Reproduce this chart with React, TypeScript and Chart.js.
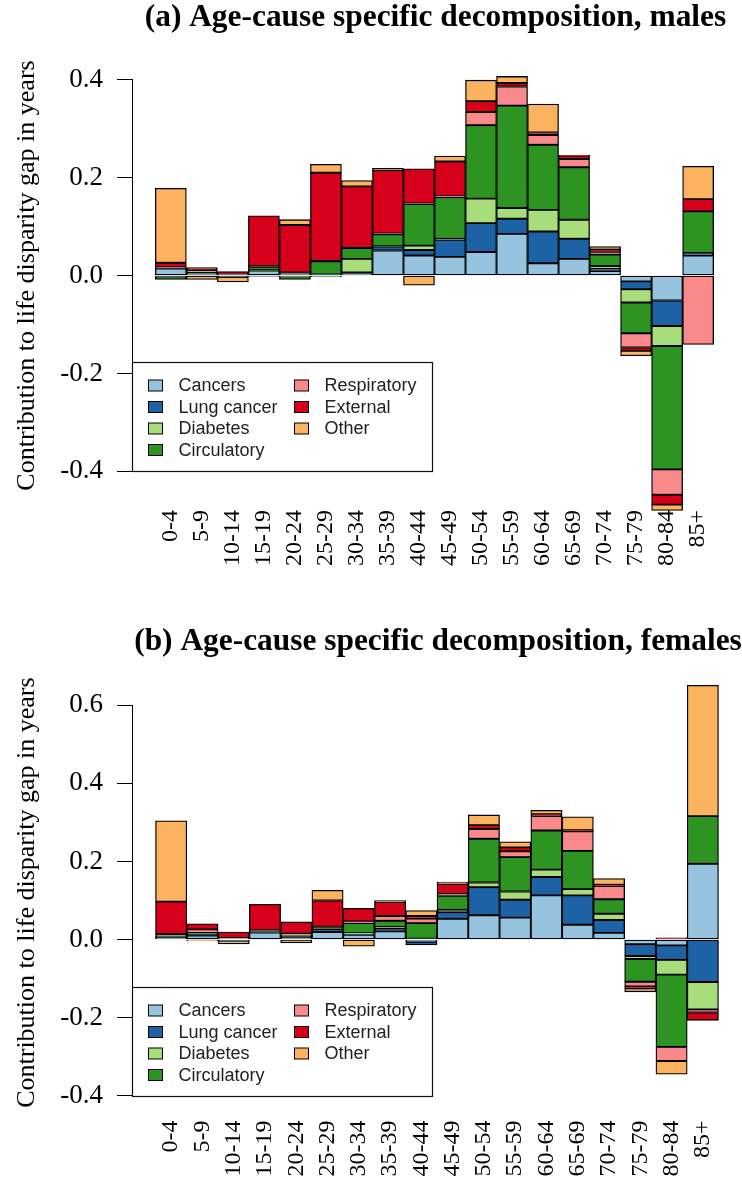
import { useEffect, useRef } from 'react';
import { Chart, registerables } from 'chart.js';

Chart.register(...registerables);

// ---------- data ----------
const ageGroups = ['0-4', '5-9', '10-14', '15-19', '20-24', '25-29', '30-34', '35-39', '40-44', '45-49', '50-54', '55-59', '60-64', '65-69', '70-74', '75-79', '80-84', '85+'];
const causes = ['Cancers', 'Lung cancer', 'Diabetes', 'Circulatory', 'Respiratory', 'External', 'Other'];
const causeColors = ['#96C3DD', '#1D62A5', '#A8DD7C', '#2E9421', '#FA898C', '#D7001A', '#FBB35F'];

const maleCancers = [0.014, 0.002, 0.001, 0.010, 0.002, 0.001, 0.004, 0.051, 0.041, 0.038, 0.048, 0.085, 0.025, 0.034, 0.009, -0.012, -0.051, 0.041];
const maleLungCancer = [-0.002, 0.001, -0.001, -0.002, 0.002, 0.001, 0.002, 0.008, 0.011, 0.035, 0.059, 0.031, 0.065, 0.041, 0.005, -0.016, -0.052, 0.005];
const maleDiabetes = [0.0, -0.001, 0.0, 0.001, -0.002, -0.003, 0.028, 0.001, 0.009, 0.002, 0.050, 0.022, 0.044, 0.039, 0.005, -0.027, -0.041, 0.0];
const maleCirculatory = [-0.006, 0.003, -0.002, 0.007, -0.006, 0.027, 0.022, 0.024, 0.085, 0.085, 0.150, 0.209, 0.133, 0.107, 0.024, -0.063, -0.252, 0.085];
const maleRespiratory = [0.003, 0.005, 0.001, 0.001, 0.002, 0.001, 0.0, 0.002, 0.001, 0.002, 0.027, 0.039, 0.020, 0.017, 0.004, -0.029, -0.052, -0.141];
const maleExternal = [0.009, 0.005, 0.006, 0.103, 0.097, 0.180, 0.126, 0.129, 0.071, 0.071, 0.022, 0.007, 0.005, 0.007, 0.006, -0.007, -0.020, 0.025];
const maleOther = [0.152, -0.007, -0.010, 0.0, 0.011, 0.017, 0.012, 0.004, -0.020, 0.011, 0.043, 0.0136, 0.058, 0.001, 0.006, -0.010, -0.012, 0.067];

const femaleCancers = [0.005, 0.010, 0.002, 0.018, 0.004, 0.019, 0.012, 0.021, -0.006, 0.053, 0.062, 0.056, 0.113, 0.038, 0.017, -0.012, -0.015, 0.194];
const femaleLungCancer = [0.002, 0.003, -0.002, 0.002, 0.005, 0.008, 0.002, 0.007, -0.008, 0.017, 0.072, 0.046, 0.047, 0.075, 0.033, -0.030, -0.037, -0.109];
const femaleDiabetes = [0.0, 0.001, 0.0, 0.0, -0.002, 0.001, 0.002, 0.004, 0.002, 0.006, 0.012, 0.021, 0.019, 0.016, 0.016, -0.008, -0.038, -0.070];
const femaleCirculatory = [0.001, 0.003, -0.003, 0.002, 0.002, 0.003, 0.026, 0.016, 0.040, 0.036, 0.112, 0.088, 0.100, 0.098, 0.037, -0.058, -0.185, 0.122];
const femaleRespiratory = [0.006, 0.009, 0.002, 0.002, 0.004, 0.002, 0.004, 0.012, 0.012, 0.005, 0.025, 0.015, 0.037, 0.050, 0.034, -0.012, -0.036, -0.008];
const femaleExternal = [0.083, 0.014, 0.015, 0.066, 0.030, 0.067, 0.034, 0.036, 0.006, 0.025, 0.010, 0.010, 0.005, 0.003, 0.003, -0.005, 0.004, -0.020];
const femaleOther = [0.207, -0.003, -0.006, 0.0, -0.007, 0.026, -0.017, 0.004, 0.014, 0.005, 0.026, 0.014, 0.010, 0.034, 0.016, -0.009, -0.034, 0.335];

const maleSeries = [maleCancers, maleLungCancer, maleDiabetes, maleCirculatory, maleRespiratory, maleExternal, maleOther];
const femaleSeries = [femaleCancers, femaleLungCancer, femaleDiabetes, femaleCirculatory, femaleRespiratory, femaleExternal, femaleOther];

const yTicksMales = [-0.4, -0.2, 0.0, 0.2, 0.4];
const yTicksFemales = [-0.4, -0.2, 0.0, 0.2, 0.4, 0.6];

const titleMales = '(a) Age-cause specific decomposition, males';
const titleFemales = '(b) Age-cause specific decomposition, females';
const yAxisTitle = 'Contribution to life disparity gap in years';

const SERIF = "'Liberation Serif', 'Times New Roman', serif";
const SANS = "'Liberation Sans', Arial, sans-serif";

// ---------- R-style title, axis line + legend ----------
const decorPlugin = {
  id: 'rDecor',
  afterDraw(chart: any, _args: any, opts: any) {
    const { ctx, chartArea, scales } = chart;
    const y = scales.y;
    const ticks: number[] = opts.ticks;
    ctx.save();

    // main title
    ctx.fillStyle = '#000';
    ctx.font = `bold 31.4px ${SERIF}`;
    ctx.textAlign = 'center';
    ctx.textBaseline = 'middle';
    ctx.fillText(opts.title, (chartArea.left + chartArea.right) / 2 + 1, opts.titleY);

    // axis line spanning the ticks only
    const ax = Math.round(chartArea.left) - 0.5;
    ctx.strokeStyle = '#000';
    ctx.lineWidth = 1;
    ctx.beginPath();
    ctx.moveTo(ax, y.getPixelForValue(Math.min(...ticks)));
    ctx.lineTo(ax, y.getPixelForValue(Math.max(...ticks)));
    ctx.stroke();

    // legend
    const bottom = Math.round(y.getPixelForValue(opts.legendBottom));
    const w = 300;
    const h = 109;
    const left = Math.round(chartArea.left) - 0.5;
    const top = bottom - h + 0.5;
    ctx.fillStyle = '#fff';
    ctx.fillRect(left, top, w, h);
    ctx.strokeStyle = '#111';
    ctx.lineWidth = 1.2;
    ctx.strokeRect(left, top, w, h);

    const rowOffsets = [23, 44.5, 66, 87.5];
    const cols = [
      { sq: 16, tx: 46, items: [0, 1, 2, 3] },
      { sq: 162, tx: 192, items: [4, 5, 6] },
    ];
    ctx.font = `18px ${SANS}`;
    ctx.textBaseline = 'middle';
    ctx.textAlign = 'left';
    cols.forEach((col) => {
      col.items.forEach((k, r) => {
        const cy = top + rowOffsets[r];
        ctx.fillStyle = causeColors[k];
        ctx.fillRect(left + col.sq, cy - 5.5, 14, 11);
        ctx.strokeStyle = '#000';
        ctx.lineWidth = 1;
        ctx.strokeRect(left + col.sq, cy - 5.5, 14, 11);
        ctx.fillStyle = '#222';
        ctx.fillText(causes[k], left + col.tx, cy + 1);
      });
    });
    ctx.restore();
  },
};

type PanelProps = {
  series: number[][];
  title: string;
  titleY: number;
  yTicks: number[];
  yMin: number;
  yMax: number;
  plotTop: number;
  xAxisHeight: number;
  xLabelPad: number;
};

function Panel({ series, title, titleY, yTicks, yMin, yMax, plotTop, xAxisHeight, xLabelPad }: PanelProps) {
  const ref = useRef<HTMLCanvasElement>(null);
  useEffect(() => {
    const chart = new Chart(ref.current as HTMLCanvasElement, {
      type: 'bar',
      data: {
        datasets: causes.map((c, k) => ({
          label: c,
          data: series[k].map((v, i) => ({ x: i, y: v })),
          backgroundColor: causeColors[k],
          borderColor: '#000',
          borderWidth: 1.3,
          borderSkipped: false,
          categoryPercentage: 1,
          barPercentage: 1,
          clip: false,
        })),
      } as any,
      plugins: [decorPlugin],
      options: {
        animation: false,
        responsive: false,
        devicePixelRatio: 1,
        layout: { padding: { top: plotTop, left: 0, right: 1, bottom: 0 } },
        plugins: {
          legend: { display: false },
          tooltip: { enabled: false },
          title: { display: false },
          rDecor: { ticks: yTicks, legendBottom: -0.4, title, titleY },
        } as any,
        scales: {
          x: {
            type: 'linear',
            stacked: true,
            offset: false,
            min: -1.22,
            max: ageGroups.length - 1 + 1.22,
            afterBuildTicks: (axis: any) => {
              axis.ticks = ageGroups.map((_, i) => ({ value: i }));
            },
            afterFit: (s: any) => {
              s.height = xAxisHeight;
            },
            ticks: {
              autoSkip: false,
              maxRotation: 90,
              minRotation: 90,
              padding: xLabelPad,
              color: '#000',
              font: { family: SERIF, size: 24 },
              callback: (v: any) => ageGroups[v as number] ?? '',
            },
            grid: { display: false, offset: false },
            border: { display: false },
          },
          y: {
            type: 'linear',
            stacked: true,
            min: yMin,
            max: yMax,
            afterBuildTicks: (axis: any) => {
              axis.ticks = yTicks.map((v) => ({ value: v }));
            },
            afterFit: (s: any) => {
              s.width = 133;
            },
            ticks: {
              padding: 14,
              color: '#000',
              font: { family: SERIF, size: 27 },
              callback: (v: any) => Number(v).toFixed(1),
            },
            grid: { display: true, drawOnChartArea: false, drawTicks: true, tickLength: 16, color: '#000', lineWidth: 1 },
            border: { display: false },
            title: {
              display: true,
              text: yAxisTitle,
              color: '#000',
              font: { family: SERIF, size: 26 },
              padding: { top: 11.4, bottom: 0 },
            },
          },
        },
      } as any,
    });
    return () => chart.destroy();
  }, []);
  return <canvas ref={ref} width={742} height={596} style={{ display: 'block' }} />;
}

export default function App() {
  return (
    <div style={{ width: 742, height: 1192, background: '#fff' }}>
      <style>{'body{margin:0;background:#fff}'}</style>
      <Panel series={maleSeries} title={titleMales} titleY={18} yTicks={yTicksMales} yMin={-0.432} yMax={0.432} plotTop={64} xAxisHeight={109} xLabelPad={15} />
      <Panel series={femaleSeries} title={titleFemales} titleY={46} yTicks={yTicksFemales} yMin={-0.42} yMax={0.66} plotTop={85.8} xAxisHeight={88.5} xLabelPad={9} />
    </div>
  );
}
